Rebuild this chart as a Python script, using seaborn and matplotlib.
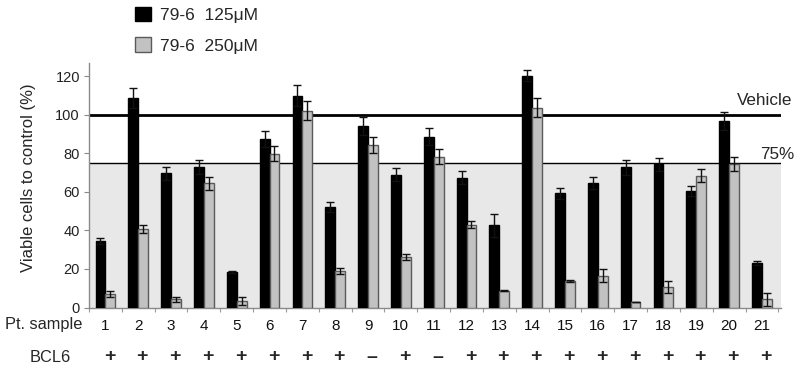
import matplotlib
matplotlib.use("Agg")
import matplotlib.pyplot as plt
import matplotlib.patches as mpatches
import matplotlib.transforms as mtransforms
import seaborn as sns
import pandas as pd

samples = [str(i) for i in range(1, 22)]
v125 = [34.5, 108.7, 69.7, 73.1, 18.2, 87.7, 110.1, 52.3, 94.1, 69.0, 88.7,
        67.4, 42.6, 120.5, 59.3, 64.8, 72.8, 74.4, 60.5, 96.9, 23.2]
e125 = [1.4, 5.2, 3.3, 3.5, 0.5, 4.2, 5.3, 2.6, 4.7, 3.4, 4.4,
        3.3, 6.1, 3.1, 2.9, 3.1, 3.8, 3.4, 2.8, 4.7, 1.1]
v250 = [7.1, 40.9, 4.2, 64.5, 3.5, 79.9, 102.3, 19.1, 84.6, 26.3, 78.3,
        43.0, 8.7, 103.8, 13.7, 16.6, 2.6, 10.6, 68.5, 74.7, 4.2]
e250 = [1.4, 2.2, 1.5, 3.4, 2.0, 4.0, 4.8, 1.5, 4.1, 1.5, 3.8,
        1.9, 0.3, 5.0, 0.5, 3.3, 0.0, 3.1, 3.4, 3.6, 3.4]
bcl6 = ["+"] * 8 + ["\u2013", "+", "\u2013"] + ["+"] * 10
doses = ["79-6  125\u03bcM", "79-6  250\u03bcM"]
yticks = [0, 20, 40, 60, 80, 100, 120]
vehicle_level = 100
cut_level = 75

sns.set_style("white")
plt.rcParams["font.family"] = ["Liberation Sans", "DejaVu Sans"]

df = pd.DataFrame({
    "sample": samples * 2,
    "value": v125 + v250,
    "dose": [doses[0]] * 21 + [doses[1]] * 21,
})
errs = [e125, e250]

fig = plt.figure(figsize=(8.0, 3.78), dpi=100)
ax = fig.add_axes([89 / 800, 1 - 307.5 / 378, 692 / 800, 244.5 / 378])

colors = ["#000000", "#c2c2c2"]
edges = ["#000000", "#5a5a5a"]
sns.barplot(data=df, x="sample", y="value", hue="dose", palette=colors,
            width=0.6, gap=0, errorbar=None, ax=ax, zorder=3, linewidth=1)

for cont, ec, err in zip(ax.containers, edges, errs):
    xs, ys = [], []
    for p in cont.patches:
        p.set_edgecolor(ec)
        p.set_linewidth(1)
        xs.append(p.get_x() + p.get_width() / 2)
        ys.append(p.get_height())
    ax.errorbar(xs, ys, yerr=err, fmt="none", ecolor="#111111",
                elinewidth=1, capsize=2.6, capthick=1, zorder=4)

ax.set_xlim(-0.49, 20.58)
ax.set_ylim(0, 127)

ax.axhspan(0, cut_level, color="#e8e8e8", zorder=0.5, lw=0)
ax.axhline(vehicle_level, color="black", lw=2, zorder=1)
ax.axhline(cut_level, color="black", lw=1, zorder=1)

blend = mtransforms.blended_transform_factory(ax.transAxes, ax.transData)
ax.text(1.016, 107.3, "Vehicle", transform=blend, ha="right", va="center",
        fontsize=12.3, clip_on=False)
ax.text(1.02, 79.3, "75%", transform=blend, ha="right", va="center",
        fontsize=12.3, clip_on=False)

for s in ["top", "right"]:
    ax.spines[s].set_visible(False)
for s in ["left", "bottom"]:
    ax.spines[s].set_color("#8a8a8a")
    ax.spines[s].set_linewidth(1)

ax.set_yticks(yticks)
ax.tick_params(axis="y", left=True, length=3.5, width=0.8, color="#8a8a8a",
               pad=3, labelsize=10.5, labelcolor="#222222")
ax.set_xticks(range(len(samples)))
ax.set_xticklabels(samples)
ax.set_xticks([i - 0.5 for i in range(len(samples) + 1)], minor=True)
ax.tick_params(axis="x", which="major", length=0, pad=8, labelsize=11,
               labelcolor="#111111")
ax.tick_params(axis="x", which="minor", bottom=True, length=3, width=0.8,
               color="#9a9a9a")
ax.set_xlabel("")
ax.set_ylabel("Viable cells to control (%)", fontsize=12)
ax.yaxis.set_label_coords(-0.076, 0.53)

fig.text(5 / 800, 1 - 324 / 378, "Pt. sample", fontsize=11.8,
         ha="left", va="center")
fig.text(30 / 800, 1 - 357 / 378, "BCL6", fontsize=11.8,
         ha="left", va="center")
blend2 = mtransforms.blended_transform_factory(ax.transData, fig.transFigure)
for i, sgn in enumerate(bcl6):
    ax.text(i + 0.12, 1 - 357 / 378, sgn, transform=blend2, ha="center",
            va="center", fontsize=14, fontweight="bold", clip_on=False)

if ax.get_legend() is not None:
    ax.get_legend().remove()
handles = [mpatches.Patch(facecolor=c, edgecolor=e, linewidth=1)
           for c, e in zip(colors, edges)]
fig.legend(handles, doses, loc="upper left",
           bbox_to_anchor=(135 / 800, 1 - 7 / 378), frameon=False,
           fontsize=12.5, handlelength=0.9, handleheight=0.9,
           handletextpad=0.55, labelspacing=0.82, borderpad=0,
           borderaxespad=0)

fig.savefig("out.png", dpi=100)
